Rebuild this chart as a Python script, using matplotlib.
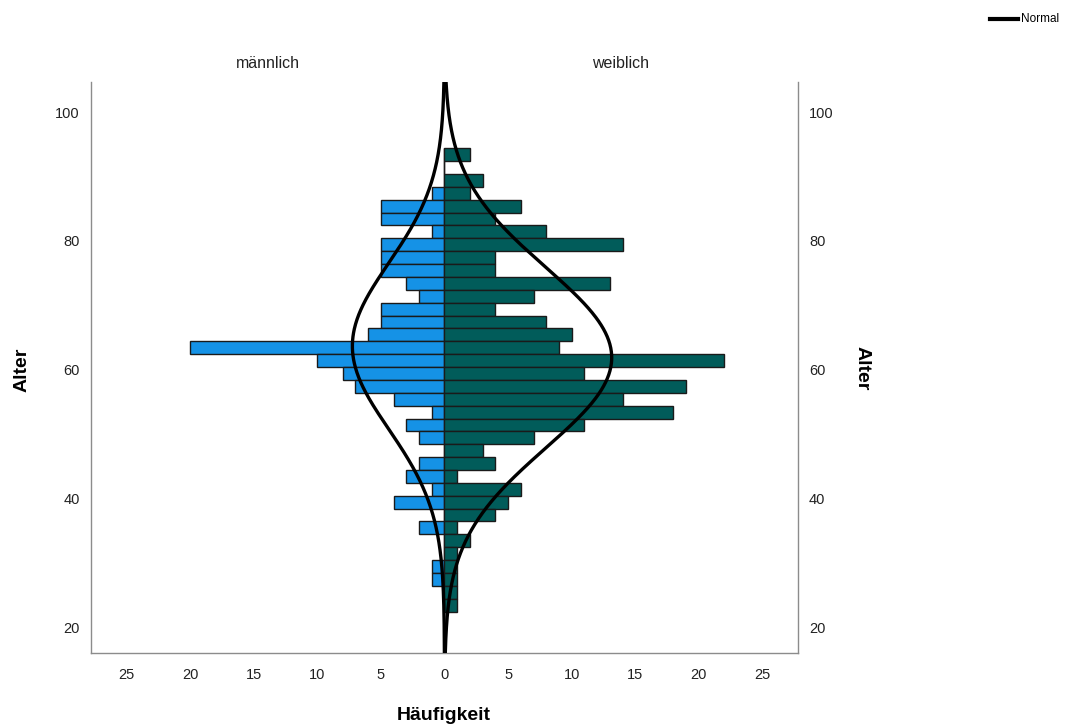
import numpy as np
import matplotlib
matplotlib.use("Agg")
import matplotlib.pyplot as plt
from matplotlib.ticker import FixedLocator, FuncFormatter

plt.rcParams['font.family'] = ['Liberation Sans', 'DejaVu Sans']

# Age bin centres (2-year bins), from the top bin down
age_bins = [93.4, 91.4, 89.4, 87.4, 85.4, 83.4, 81.4, 79.4, 77.4, 75.4,
            73.4, 71.4, 69.4, 67.4, 65.4, 63.4, 61.4, 59.4, 57.4, 55.4,
            53.4, 51.4, 49.4, 47.4, 45.4, 43.4, 41.4, 39.4, 37.4, 35.4,
            33.4, 31.4, 29.4, 27.4, 25.4, 23.4]
male_counts = [0, 0, 0, 1, 5, 5, 1, 5, 5, 5,
               3, 2, 5, 5, 6, 20, 10, 8, 7, 4,
               1, 3, 2, 0, 2, 3, 1, 4, 0, 2,
               0, 0, 1, 1, 0, 0]
female_counts = [2, 0, 3, 2, 6, 4, 8, 14, 4, 4,
                 13, 7, 4, 8, 10, 9, 22, 11, 19, 14,
                 18, 11, 7, 3, 4, 1, 6, 5, 4, 1,
                 2, 1, 1, 1, 1, 1]
bin_width = 2.0
group_titles = ["männlich", "weiblich"]
x_ticks = [-25, -20, -15, -10, -5, 0, 5, 10, 15, 20, 25]
y_ticks = [20, 40, 60, 80, 100]

male_color = "#1592e6"
female_color = "#015c5a"

fig = plt.figure(figsize=(10.74, 7.27), dpi=100)
ax = fig.add_axes([91/1074, 1-653/727, (798-91)/1074, (653-82)/727])

ages = np.array(age_bins)
m = np.array(male_counts, dtype=float)
f = np.array(female_counts, dtype=float)

ax.barh(ages, -m, height=bin_width, color=male_color, edgecolor="#1a1a1a", linewidth=1.0, zorder=2)
ax.barh(ages, f, height=bin_width, color=female_color, edgecolor="#1a1a1a", linewidth=1.0, zorder=2)

ylo, yhi = 15.96, 104.7
yy = np.linspace(ylo, yhi, 600)
for counts, sign in ((m, -1), (f, 1)):
    n = counts.sum()
    mu = (counts * ages).sum() / n
    sd = np.sqrt((counts * (ages - mu) ** 2).sum() / (n - 1))
    dens = n * bin_width / (sd * np.sqrt(2 * np.pi)) * np.exp(-0.5 * ((yy - mu) / sd) ** 2)
    ax.plot(sign * dens, yy, color="black", lw=2.4, zorder=3, solid_capstyle="butt")

ax.set_xlim(-27.8, 27.8)
ax.set_ylim(ylo, yhi)
ax.xaxis.set_major_locator(FixedLocator(x_ticks))
ax.xaxis.set_major_formatter(FuncFormatter(lambda v, p: f"{abs(int(round(v)))}"))
ax.yaxis.set_major_locator(FixedLocator(y_ticks))
ax.tick_params(axis="both", length=0, labelsize=10.5, colors="#222222")
ax.tick_params(axis="x", pad=11)
ax.tick_params(axis="y", pad=8, labelright=True, labelleft=True)

ax.spines["top"].set_visible(False)
for s in ("left", "right", "bottom"):
    ax.spines[s].set_color("#8c8c8c")
    ax.spines[s].set_linewidth(1.0)

# Panel titles
fig.text(267.5/1074, 1-63/727, group_titles[0], ha="center", va="center", fontsize=11.5, color="#222222")
fig.text(621/1074, 1-63/727, group_titles[1], ha="center", va="center", fontsize=11.5, color="#222222")

# Axis labels
fig.text(22/1074, 1-370/727, "Alter", rotation=90, ha="center", va="center", fontsize=14, fontweight="bold")
fig.text(862/1074, 1-368/727, "Alter", rotation=270, ha="center", va="center", fontsize=14, fontweight="bold")
fig.text(444/1074, 1-716/727, "Häufigkeit", ha="center", va="center", fontsize=14, fontweight="bold")

# Legend
fig.add_artist(plt.Line2D([990/1074, 1018/1074], [1-19/727, 1-19/727], color="black", lw=3, transform=fig.transFigure))
fig.text(1021/1074, 1-19/727, "Normal", ha="left", va="center", fontsize=8.5, fontstretch="condensed")

fig.savefig("out.png", dpi=100)
